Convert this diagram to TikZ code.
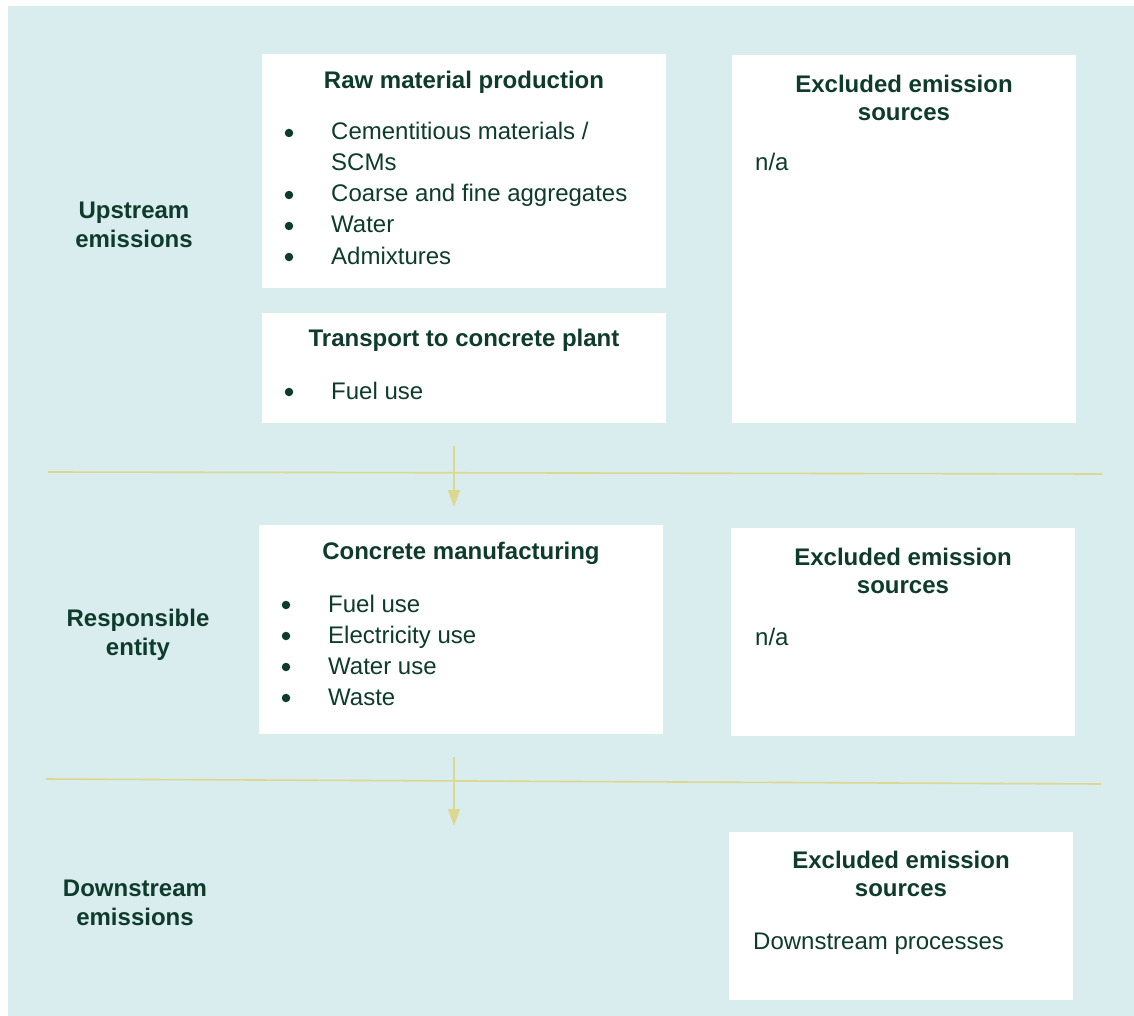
\documentclass[tikz,border=0pt]{standalone}
\usepackage{fontspec}
\setmainfont{Liberation Sans}
\usetikzlibrary{arrows.meta}
\definecolor{bgteal}{HTML}{D9EDEE}
\definecolor{ink}{HTML}{0E3B2B}
\definecolor{rulecol}{HTML}{DDD88F}
\tikzset{
  box/.style={fill=white,anchor=north west,inner sep=0pt},
  head/.style={font=\fontsize{24}{28.5}\selectfont\bfseries,text=ink,align=center,inner sep=0pt},
  item/.style={font=\fontsize{24}{29}\selectfont,text=ink,anchor=base west,inner sep=0pt},
  dot/.style={circle,fill=ink,minimum size=8.5pt,inner sep=0pt},
  sep/.style={draw=rulecol,line width=1.6pt},
  flow/.style={draw=rulecol,line width=1.4pt,-{Triangle[width=12pt,length=17pt]}}
}

\begin{document}
\begin{tikzpicture}[x=1pt,y=-1pt]
\useasboundingbox (0,0) rectangle (1134,1016);
\fill[bgteal] (8,6) rectangle (1134,1016);

% white panels
\node[box,minimum width=404pt,minimum height=234pt] (raw) at (262,54) {};
\node[box,minimum width=404pt,minimum height=110pt] (transport) at (262,313) {};
\node[box,minimum width=344pt,minimum height=368pt] (exclA) at (732,55) {};
\node[box,minimum width=404pt,minimum height=209pt] (concrete) at (259,525) {};
\node[box,minimum width=344pt,minimum height=208pt] (exclB) at (731,528) {};
\node[box,minimum width=344pt,minimum height=168pt] (exclC) at (729,832) {};

% stage labels
\node[head] (upstream) at (134,225) {Upstream\\emissions};
\node[head] (entity) at (138,635) {Responsible\\entity};
\node[head] (downstream) at (135,903) {Downstream\\emissions};

% raw material production (item y = baseline)
\node[head] (rawhead) at (464,82) {Raw material production};
\node[dot] (rb1) at (289,133) {};
\node[item] (ri1) at (331,140) {Cementitious materials /};
\node[item] (ri1b) at (331,171) {SCMs};
\node[dot] (rb2) at (289,195) {};
\node[item] (ri2) at (331,202) {Coarse and fine aggregates};
\node[dot] (rb3) at (289,226) {};
\node[item] (ri3) at (331,233) {Water};
\node[dot] (rb4) at (289,257) {};
\node[item] (ri4) at (331,264) {Admixtures};

% transport
\node[head] (transhead) at (464,340) {Transport to concrete plant};
\node[dot] (tb1) at (289,392) {};
\node[item] (ti1) at (331,399) {Fuel use};

% concrete manufacturing
\node[head] (conchead) at (461,553) {Concrete manufacturing};
\node[dot] (cb1) at (286,605) {};
\node[item] (ci1) at (328,612) {Fuel use};
\node[dot] (cb2) at (286,636) {};
\node[item] (ci2) at (328,643) {Electricity use};
\node[dot] (cb3) at (286,667) {};
\node[item] (ci3) at (328,674) {Water use};
\node[dot] (cb4) at (286,698) {};
\node[item] (ci4) at (328,705) {Waste};

% excluded sources
\node[head] (exclAhead) at (904,98) {Excluded emission\\sources};
\node[item] (exclAtxt) at (755,171) {n/a};
\node[head] (exclBhead) at (903,571) {Excluded emission\\sources};
\node[item] (exclBtxt) at (755,645) {n/a};
\node[head] (exclChead) at (901,874) {Excluded emission\\sources};
\node[item] (exclCtxt) at (753,949) {Downstream processes};

% separators and flow arrows
\coordinate (s1a) at (48,472);
\coordinate (s1b) at (1102,474);
\coordinate (s2a) at (46,779);
\coordinate (s2b) at (1101,784);
\draw[sep] (s1a) -- (s1b);
\draw[sep] (s2a) -- (s2b);
\coordinate (f1a) at (454,446);
\coordinate (f1b) at (454,507);
\coordinate (f2a) at (454,757);
\coordinate (f2b) at (454,826);
\draw[flow] (f1a) -- (f1b);
\draw[flow] (f2a) -- (f2b);
\end{tikzpicture}
\end{document}
